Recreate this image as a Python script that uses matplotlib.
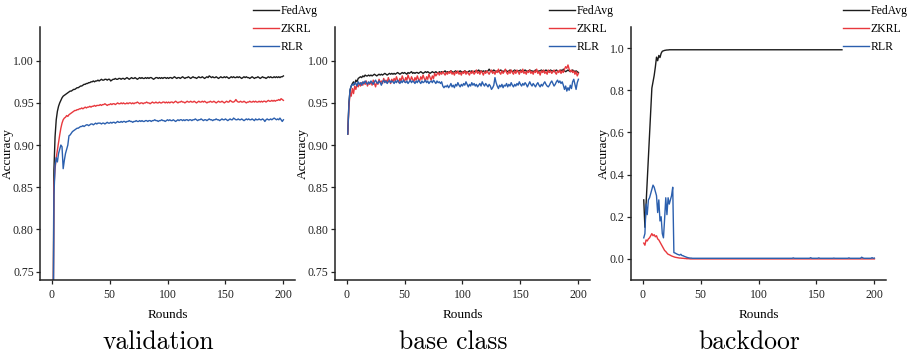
import numpy as np
import matplotlib
matplotlib.use("Agg")
import matplotlib.pyplot as plt

# ---------------- data ----------------
series_names = ["FedAvg", "ZKRL", "RLR"]
panel_titles = ["validation", "base class", "backdoor"]
x_ticks = [0, 50, 100, 150, 200]
acc_ticks = [0.75, 0.80, 0.85, 0.90, 0.95, 1.00]
bd_ticks = [0.0, 0.2, 0.4, 0.6, 0.8, 1.0]

val_fedavg = [
    0.600, 0.870, 0.910, 0.930, 0.940, 0.946, 0.950, 0.953, 0.956, 0.958, 0.959, 0.960, 0.961, 0.962, 0.963, 0.964, 0.964, 0.965, 0.966, 0.966,
    0.967, 0.968, 0.968, 0.969, 0.970, 0.970, 0.971, 0.972, 0.972, 0.973, 0.973, 0.974, 0.974, 0.975, 0.975, 0.976, 0.975, 0.976, 0.976, 0.977,
    0.976, 0.977, 0.978, 0.977, 0.977, 0.978, 0.978, 0.977, 0.978, 0.978, 0.976, 0.977, 0.978, 0.978, 0.979, 0.978, 0.978, 0.979, 0.979, 0.978,
    0.979, 0.979, 0.978, 0.979, 0.980, 0.979, 0.978, 0.979, 0.980, 0.979, 0.979, 0.980, 0.979, 0.978, 0.979, 0.980, 0.979, 0.980, 0.979, 0.979,
    0.980, 0.979, 0.980, 0.979, 0.980, 0.980, 0.979, 0.978, 0.979, 0.980, 0.980, 0.979, 0.980, 0.979, 0.980, 0.979, 0.980, 0.980, 0.979, 0.980,
    0.979, 0.980, 0.980, 0.979, 0.980, 0.981, 0.980, 0.979, 0.980, 0.980, 0.979, 0.980, 0.981, 0.980, 0.979, 0.980, 0.980, 0.981, 0.980, 0.979,
    0.980, 0.981, 0.980, 0.980, 0.979, 0.980, 0.981, 0.980, 0.980, 0.981, 0.980, 0.979, 0.980, 0.981, 0.980, 0.982, 0.981, 0.980, 0.981, 0.980,
    0.980, 0.981, 0.980, 0.979, 0.980, 0.981, 0.980, 0.980, 0.981, 0.980, 0.981, 0.980, 0.979, 0.980, 0.981, 0.980, 0.981, 0.980, 0.980, 0.981,
    0.980, 0.981, 0.980, 0.979, 0.980, 0.981, 0.980, 0.981, 0.980, 0.980, 0.979, 0.980, 0.981, 0.980, 0.979, 0.980, 0.980, 0.981, 0.980, 0.979,
    0.980, 0.981, 0.980, 0.980, 0.979, 0.980, 0.981, 0.980, 0.981, 0.980, 0.980, 0.981, 0.980, 0.981, 0.980, 0.981, 0.980, 0.981, 0.981, 0.982,
]
val_zkrl = [
    0.580, 0.850, 0.872, 0.885, 0.894, 0.903, 0.912, 0.920, 0.926, 0.930, 0.932, 0.933, 0.935, 0.934, 0.936, 0.937, 0.938, 0.939, 0.940, 0.941,
    0.941, 0.942, 0.942, 0.943, 0.943, 0.944, 0.943, 0.944, 0.945, 0.944, 0.945, 0.945, 0.946, 0.945, 0.946, 0.946, 0.947, 0.946, 0.947, 0.947,
    0.947, 0.948, 0.947, 0.948, 0.948, 0.949, 0.948, 0.947, 0.948, 0.948, 0.949, 0.948, 0.949, 0.949, 0.948, 0.949, 0.950, 0.949, 0.949, 0.950,
    0.949, 0.950, 0.949, 0.949, 0.950, 0.949, 0.950, 0.950, 0.949, 0.950, 0.949, 0.950, 0.950, 0.951, 0.950, 0.949, 0.950, 0.950, 0.949, 0.950,
    0.950, 0.951, 0.950, 0.950, 0.949, 0.950, 0.951, 0.950, 0.950, 0.951, 0.950, 0.950, 0.951, 0.950, 0.950, 0.951, 0.951, 0.950, 0.951, 0.950,
    0.951, 0.950, 0.951, 0.951, 0.950, 0.951, 0.952, 0.951, 0.950, 0.951, 0.951, 0.952, 0.951, 0.951, 0.950, 0.951, 0.952, 0.951, 0.951, 0.952,
    0.951, 0.951, 0.952, 0.951, 0.950, 0.951, 0.952, 0.951, 0.951, 0.952, 0.951, 0.952, 0.951, 0.950, 0.951, 0.951, 0.952, 0.951, 0.951, 0.952,
    0.951, 0.950, 0.951, 0.952, 0.951, 0.951, 0.952, 0.951, 0.950, 0.951, 0.952, 0.951, 0.951, 0.953, 0.952, 0.951, 0.951, 0.952, 0.954, 0.952,
    0.951, 0.951, 0.952, 0.951, 0.951, 0.952, 0.951, 0.950, 0.951, 0.951, 0.952, 0.951, 0.951, 0.952, 0.951, 0.952, 0.951, 0.951, 0.952, 0.951,
    0.952, 0.951, 0.952, 0.952, 0.951, 0.952, 0.953, 0.952, 0.952, 0.953, 0.952, 0.953, 0.952, 0.953, 0.953, 0.954, 0.953, 0.955, 0.954, 0.953,
]
val_rlr = [
    0.550, 0.840, 0.875, 0.885, 0.880, 0.890, 0.895, 0.900, 0.898, 0.872, 0.882, 0.890, 0.895, 0.900, 0.911, 0.912, 0.914, 0.916, 0.917, 0.918,
    0.919, 0.920, 0.920, 0.921, 0.922, 0.922, 0.923, 0.922, 0.923, 0.924, 0.924, 0.923, 0.924, 0.925, 0.925, 0.924, 0.925, 0.926, 0.925, 0.926,
    0.926, 0.926, 0.925, 0.926, 0.926, 0.925, 0.926, 0.927, 0.926, 0.926, 0.927, 0.926, 0.927, 0.927, 0.926, 0.927, 0.928, 0.927, 0.927, 0.928,
    0.927, 0.928, 0.928, 0.927, 0.928, 0.928, 0.929, 0.928, 0.928, 0.927, 0.928, 0.928, 0.929, 0.928, 0.928, 0.929, 0.928, 0.929, 0.928, 0.928,
    0.929, 0.929, 0.928, 0.929, 0.929, 0.928, 0.929, 0.929, 0.930, 0.929, 0.929, 0.928, 0.929, 0.929, 0.930, 0.929, 0.929, 0.928, 0.929, 0.930,
    0.929, 0.930, 0.929, 0.929, 0.930, 0.929, 0.928, 0.929, 0.930, 0.929, 0.930, 0.930, 0.929, 0.930, 0.929, 0.930, 0.930, 0.929, 0.930, 0.930,
    0.929, 0.930, 0.930, 0.931, 0.930, 0.929, 0.930, 0.930, 0.931, 0.930, 0.929, 0.930, 0.930, 0.929, 0.930, 0.931, 0.930, 0.930, 0.929, 0.930,
    0.930, 0.931, 0.930, 0.930, 0.929, 0.930, 0.931, 0.930, 0.930, 0.931, 0.930, 0.929, 0.930, 0.931, 0.930, 0.930, 0.932, 0.931, 0.930, 0.930,
    0.931, 0.930, 0.930, 0.931, 0.930, 0.929, 0.930, 0.931, 0.930, 0.931, 0.930, 0.930, 0.931, 0.930, 0.929, 0.931, 0.930, 0.930, 0.931, 0.930,
    0.930, 0.931, 0.930, 0.928, 0.930, 0.931, 0.930, 0.930, 0.931, 0.930, 0.931, 0.932, 0.931, 0.930, 0.931, 0.930, 0.932, 0.930, 0.928, 0.930,
]

base_fedavg = [
    0.913, 0.950, 0.965, 0.970, 0.973, 0.975, 0.972, 0.977, 0.975, 0.979, 0.980, 0.981, 0.980, 0.982, 0.981, 0.983, 0.982, 0.982, 0.983, 0.982,
    0.983, 0.982, 0.983, 0.984, 0.983, 0.982, 0.983, 0.984, 0.983, 0.984, 0.983, 0.984, 0.985, 0.984, 0.983, 0.984, 0.985, 0.984, 0.985, 0.984,
    0.985, 0.984, 0.985, 0.986, 0.985, 0.984, 0.985, 0.986, 0.985, 0.986, 0.985, 0.984, 0.986, 0.985, 0.986, 0.987, 0.985, 0.986, 0.985, 0.986,
    0.986, 0.985, 0.986, 0.987, 0.986, 0.985, 0.986, 0.987, 0.986, 0.987, 0.986, 0.985, 0.986, 0.987, 0.986, 0.986, 0.987, 0.986, 0.985, 0.987,
    0.986, 0.987, 0.986, 0.987, 0.988, 0.986, 0.987, 0.986, 0.987, 0.988, 0.987, 0.986, 0.987, 0.988, 0.987, 0.986, 0.987, 0.988, 0.987, 0.986,
    0.987, 0.988, 0.987, 0.986, 0.987, 0.988, 0.987, 0.988, 0.986, 0.987, 0.988, 0.987, 0.988, 0.989, 0.987, 0.988, 0.987, 0.988, 0.987, 0.988,
    0.987, 0.988, 0.990, 0.988, 0.987, 0.988, 0.989, 0.988, 0.987, 0.988, 0.987, 0.988, 0.989, 0.988, 0.987, 0.988, 0.989, 0.988, 0.987, 0.988,
    0.989, 0.988, 0.987, 0.988, 0.989, 0.988, 0.987, 0.988, 0.988, 0.989, 0.988, 0.987, 0.988, 0.989, 0.988, 0.987, 0.988, 0.989, 0.988, 0.988,
    0.987, 0.988, 0.989, 0.988, 0.987, 0.988, 0.988, 0.989, 0.988, 0.987, 0.988, 0.989, 0.988, 0.987, 0.988, 0.989, 0.988, 0.988, 0.987, 0.988,
    0.989, 0.988, 0.987, 0.988, 0.989, 0.988, 0.990, 0.988, 0.987, 0.988, 0.989, 0.988, 0.987, 0.988, 0.989, 0.988, 0.987, 0.988, 0.987, 0.986,
]
base_zkrl = [
    0.913, 0.945, 0.962, 0.958, 0.967, 0.961, 0.970, 0.966, 0.972, 0.969, 0.973, 0.970, 0.974, 0.971, 0.975, 0.972, 0.976, 0.970, 0.974, 0.972,
    0.975, 0.971, 0.977, 0.973, 0.969, 0.975, 0.972, 0.978, 0.974, 0.976, 0.973, 0.979, 0.975, 0.977, 0.974, 0.980, 0.976, 0.973, 0.978, 0.975,
    0.979, 0.976, 0.981, 0.977, 0.974, 0.979, 0.976, 0.982, 0.978, 0.975, 0.980, 0.977, 0.983, 0.979, 0.976, 0.981, 0.978, 0.975, 0.980, 0.977,
    0.982, 0.978, 0.976, 0.981, 0.978, 0.983, 0.979, 0.976, 0.981, 0.978, 0.984, 0.980, 0.977, 0.982, 0.979, 0.985, 0.982, 0.984, 0.986, 0.983,
    0.986, 0.984, 0.987, 0.985, 0.983, 0.986, 0.984, 0.987, 0.985, 0.988, 0.984, 0.986, 0.983, 0.987, 0.985, 0.988, 0.984, 0.986, 0.983, 0.987,
    0.985, 0.988, 0.984, 0.987, 0.985, 0.983, 0.987, 0.985, 0.988, 0.984, 0.986, 0.989, 0.985, 0.987, 0.984, 0.988, 0.986, 0.983, 0.987, 0.985,
    0.988, 0.986, 0.984, 0.987, 0.989, 0.985, 0.987, 0.984, 0.988, 0.986, 0.990, 0.986, 0.984, 0.988, 0.985, 0.987, 0.990, 0.986, 0.984, 0.988,
    0.985, 0.989, 0.986, 0.984, 0.988, 0.985, 0.989, 0.987, 0.984, 0.988, 0.986, 0.990, 0.985, 0.987, 0.984, 0.988, 0.986, 0.989, 0.985, 0.987,
    0.984, 0.988, 0.986, 0.990, 0.985, 0.987, 0.983, 0.988, 0.986, 0.989, 0.985, 0.987, 0.984, 0.989, 0.986, 0.988, 0.985, 0.987, 0.989, 0.986,
    0.984, 0.988, 0.986, 0.989, 0.985, 0.988, 0.986, 0.990, 0.993, 0.991, 0.995, 0.990, 0.987, 0.989, 0.986, 0.988, 0.984, 0.987, 0.982, 0.985,
]
base_rlr = [
    0.913, 0.948, 0.966, 0.970, 0.972, 0.971, 0.974, 0.973, 0.970, 0.975, 0.972, 0.974, 0.971, 0.975, 0.973, 0.976, 0.974, 0.972, 0.975, 0.973,
    0.976, 0.974, 0.972, 0.975, 0.977, 0.974, 0.973, 0.976, 0.974, 0.971, 0.975, 0.977, 0.974, 0.976, 0.973, 0.975, 0.977, 0.974, 0.976, 0.975,
    0.973, 0.976, 0.974, 0.977, 0.975, 0.973, 0.976, 0.974, 0.977, 0.975, 0.974, 0.976, 0.973, 0.975, 0.977, 0.974, 0.976, 0.975, 0.973, 0.976,
    0.974, 0.977, 0.975, 0.973, 0.976, 0.974, 0.975, 0.977, 0.974, 0.976, 0.973, 0.975, 0.976, 0.974, 0.977, 0.975, 0.973, 0.976, 0.974, 0.975,
    0.973, 0.975, 0.970, 0.968, 0.970, 0.969, 0.971, 0.968, 0.970, 0.973, 0.969, 0.971, 0.968, 0.972, 0.970, 0.974, 0.971, 0.969, 0.972, 0.970,
    0.973, 0.971, 0.975, 0.972, 0.969, 0.972, 0.970, 0.974, 0.971, 0.973, 0.970, 0.972, 0.969, 0.971, 0.973, 0.970, 0.975, 0.972, 0.970, 0.973,
    0.971, 0.969, 0.972, 0.970, 0.966, 0.968, 0.971, 0.980, 0.974, 0.970, 0.967, 0.971, 0.969, 0.972, 0.968, 0.971, 0.970, 0.973, 0.969, 0.972,
    0.970, 0.974, 0.971, 0.969, 0.972, 0.970, 0.973, 0.971, 0.975, 0.972, 0.970, 0.973, 0.971, 0.974, 0.972, 0.969, 0.972, 0.975, 0.972, 0.970,
    0.973, 0.971, 0.969, 0.972, 0.974, 0.971, 0.969, 0.972, 0.970, 0.973, 0.975, 0.972, 0.970, 0.969, 0.971, 0.974, 0.976, 0.973, 0.970, 0.972,
    0.975, 0.977, 0.974, 0.976, 0.973, 0.975, 0.971, 0.966, 0.970, 0.964, 0.968, 0.965, 0.971, 0.967, 0.975, 0.978, 0.972, 0.966, 0.974, 0.978,
]

bd_fedavg = [
    0.280, 0.150, 0.260, 0.370, 0.480, 0.590, 0.700, 0.810, 0.840, 0.870, 0.910, 0.957, 0.940, 0.965, 0.955, 0.975, 0.985, 0.987, 0.989, 0.990,
    0.991, 0.991, 0.992, 0.992, 0.992, 0.992, 0.992, 0.992, 0.992, 0.992, 0.992, 0.992, 0.992, 0.992, 0.992, 0.992, 0.992, 0.992, 0.992, 0.992,
    0.992, 0.992, 0.992, 0.992, 0.992, 0.992, 0.992, 0.992, 0.992, 0.992, 0.992, 0.992, 0.992, 0.992, 0.992, 0.992, 0.992, 0.992, 0.992, 0.992,
    0.992, 0.992, 0.992, 0.992, 0.992, 0.992, 0.992, 0.992, 0.992, 0.992, 0.992, 0.992, 0.992, 0.992, 0.992, 0.992, 0.992, 0.992, 0.992, 0.992,
    0.992, 0.992, 0.992, 0.992, 0.992, 0.992, 0.992, 0.992, 0.992, 0.992, 0.992, 0.992, 0.992, 0.992, 0.992, 0.992, 0.992, 0.992, 0.992, 0.992,
    0.992, 0.992, 0.992, 0.992, 0.992, 0.992, 0.992, 0.992, 0.992, 0.992, 0.992, 0.992, 0.992, 0.992, 0.992, 0.992, 0.992, 0.992, 0.992, 0.992,
    0.992, 0.992, 0.992, 0.992, 0.992, 0.992, 0.992, 0.992, 0.992, 0.992, 0.992, 0.992, 0.992, 0.992, 0.992, 0.992, 0.992, 0.992, 0.992, 0.992,
    0.992, 0.992, 0.992, 0.992, 0.992, 0.992, 0.992, 0.992, 0.992, 0.992, 0.992, 0.992, 0.992, 0.992, 0.992, 0.992, 0.992, 0.992, 0.992, 0.992,
    0.992, 0.992, 0.992, 0.992, 0.992, 0.992, 0.992, 0.992, 0.992, 0.992, 0.992, 0.992,
]
bd_zkrl = [
    0.075, 0.065, 0.090, 0.085, 0.095, 0.100, 0.110, 0.120, 0.110, 0.115, 0.105, 0.110, 0.095, 0.090, 0.080, 0.070, 0.060, 0.050, 0.040, 0.035,
    0.028, 0.022, 0.020, 0.017, 0.014, 0.012, 0.010, 0.008, 0.007, 0.006, 0.005, 0.004, 0.004, 0.003, 0.003, 0.002, 0.002, 0.001, 0.001, 0.001,
    0.000, 0.000, 0.000, 0.000, 0.000, 0.000, 0.000, 0.000, 0.000, 0.000, 0.000, 0.000, 0.000, 0.000, 0.000, 0.000, 0.000, 0.000, 0.000, 0.000,
    0.000, 0.000, 0.000, 0.000, 0.000, 0.000, 0.000, 0.000, 0.000, 0.000, 0.000, 0.000, 0.000, 0.000, 0.000, 0.000, 0.000, 0.000, 0.000, 0.000,
    0.000, 0.000, 0.000, 0.000, 0.000, 0.000, 0.000, 0.000, 0.000, 0.000, 0.000, 0.000, 0.000, 0.000, 0.000, 0.000, 0.000, 0.000, 0.000, 0.000,
    0.000, 0.000, 0.000, 0.000, 0.000, 0.000, 0.000, 0.000, 0.000, 0.000, 0.000, 0.000, 0.000, 0.000, 0.000, 0.000, 0.000, 0.000, 0.000, 0.000,
    0.000, 0.000, 0.000, 0.000, 0.000, 0.000, 0.000, 0.000, 0.000, 0.000, 0.000, 0.000, 0.000, 0.000, 0.000, 0.000, 0.000, 0.000, 0.000, 0.000,
    0.000, 0.000, 0.000, 0.000, 0.000, 0.000, 0.000, 0.000, 0.000, 0.000, 0.000, 0.000, 0.000, 0.000, 0.000, 0.000, 0.000, 0.000, 0.000, 0.000,
    0.000, 0.000, 0.000, 0.000, 0.000, 0.000, 0.000, 0.000, 0.000, 0.000, 0.000, 0.000, 0.000, 0.000, 0.000, 0.000, 0.000, 0.000, 0.000, 0.000,
    0.000, 0.000, 0.000, 0.000, 0.000, 0.000, 0.000, 0.000, 0.000, 0.000, 0.000, 0.000, 0.000, 0.000, 0.000, 0.000, 0.000, 0.000, 0.000, 0.000,
]
bd_rlr = [
    0.100, 0.120, 0.260, 0.210, 0.280, 0.290, 0.310, 0.330, 0.350, 0.340, 0.320, 0.300, 0.220, 0.280, 0.180, 0.200, 0.120, 0.100, 0.190, 0.290,
    0.210, 0.290, 0.260, 0.280, 0.300, 0.340, 0.030, 0.028, 0.025, 0.022, 0.020, 0.018, 0.022, 0.016, 0.015, 0.012, 0.010, 0.008, 0.006, 0.005,
    0.004, 0.004, 0.003, 0.003, 0.003, 0.003, 0.003, 0.003, 0.003, 0.003, 0.003, 0.003, 0.003, 0.003, 0.003, 0.003, 0.003, 0.003, 0.003, 0.003,
    0.003, 0.003, 0.003, 0.003, 0.003, 0.003, 0.003, 0.003, 0.003, 0.003, 0.003, 0.003, 0.003, 0.003, 0.003, 0.003, 0.003, 0.003, 0.003, 0.003,
    0.003, 0.003, 0.003, 0.003, 0.003, 0.003, 0.003, 0.003, 0.003, 0.003, 0.003, 0.003, 0.003, 0.003, 0.003, 0.003, 0.003, 0.003, 0.003, 0.003,
    0.003, 0.003, 0.003, 0.003, 0.003, 0.003, 0.003, 0.003, 0.003, 0.003, 0.003, 0.003, 0.003, 0.003, 0.003, 0.003, 0.003, 0.003, 0.003, 0.003,
    0.003, 0.003, 0.003, 0.003, 0.003, 0.003, 0.003, 0.003, 0.003, 0.005, 0.003, 0.003, 0.003, 0.003, 0.003, 0.003, 0.003, 0.003, 0.003, 0.003,
    0.003, 0.003, 0.003, 0.003, 0.006, 0.003, 0.003, 0.003, 0.003, 0.003, 0.003, 0.005, 0.003, 0.003, 0.003, 0.003, 0.003, 0.003, 0.003, 0.003,
    0.003, 0.003, 0.003, 0.003, 0.004, 0.003, 0.003, 0.003, 0.003, 0.003, 0.003, 0.003, 0.003, 0.003, 0.003, 0.003, 0.003, 0.005, 0.003, 0.003,
    0.003, 0.003, 0.003, 0.003, 0.003, 0.003, 0.003, 0.003, 0.008, 0.005, 0.003, 0.003, 0.003, 0.003, 0.003, 0.003, 0.003, 0.006, 0.003, 0.004,
]

colors = {"FedAvg": "#1c1c1c", "ZKRL": "#e8383d", "RLR": "#2b5fae"}

# ---------------- figure ----------------
W, H = 909, 356
fig = plt.figure(figsize=(W / 100, H / 100), dpi=100)
serif = "Liberation Serif"

panels = [
    (40, {"FedAvg": val_fedavg, "ZKRL": val_zkrl, "RLR": val_rlr}, (0.74, 1.04), acc_ticks, "{:.2f}", 253, 9),
    (335, {"FedAvg": base_fedavg, "ZKRL": base_zkrl, "RLR": base_rlr}, (0.74, 1.04), acc_ticks, "{:.2f}", 549, 304),
    (631, {"FedAvg": bd_fedavg, "ZKRL": bd_zkrl, "RLR": bd_rlr}, (-0.1, 1.1), bd_ticks, "{:.1f}", 843, 605),
]

ax_w = 255
ax_top, ax_bot = 27, 280
for (left, data, ylim, yticks, fmt, leg_x, ylab_x), title in zip(panels, panel_titles):
    ax = fig.add_axes([left / W, 1 - ax_bot / H, ax_w / W, (ax_bot - ax_top) / H])
    handles = []
    for name in series_names:
        vals = data[name]
        rounds = np.arange(1, len(vals) + 1)
        (h,) = ax.plot(rounds, vals, color=colors[name], lw=1.0, label=name)
        handles.append(h)
    ax.set_xlim(-10, 210)
    ax.set_ylim(*ylim)
    ax.set_xticks(x_ticks)
    ax.set_xticklabels([str(t) for t in x_ticks], fontfamily=serif, fontsize=8.5)
    ax.set_yticks(yticks)
    ax.set_yticklabels([fmt.format(t) for t in yticks], fontfamily=serif, fontsize=8.5)
    for s in ["top", "right"]:
        ax.spines[s].set_visible(False)
    for s in ["left", "bottom"]:
        ax.spines[s].set_linewidth(1.1)
        ax.spines[s].set_color("#222222")
    ax.tick_params(axis="both", direction="out", length=3, width=0.9, colors="#222222")
    ax.tick_params(axis="y", pad=1.5)
    ax.tick_params(axis="x", pad=3.5)
    ax.set_xlabel("Rounds", fontfamily=serif, fontsize=9.5)
    ax.xaxis.set_label_coords(0.5, -(309 - ax_bot) / (ax_bot - ax_top))
    ax.set_ylabel("Accuracy", fontfamily=serif, fontsize=9.5)
    ax.yaxis.set_label_coords(-(left - ylab_x - 5) / ax_w, 0.5)
    fig.legend(handles=handles, labels=series_names, loc="upper left",
               bbox_to_anchor=(leg_x / W, 1 - 5 / H), bbox_transform=fig.transFigure,
               frameon=False, borderpad=0, borderaxespad=0, handlelength=2.2,
               handletextpad=0.15, labelspacing=0.5,
               prop={"family": serif, "size": 8.5})
    fig.text((left + ax_w / 2 - 9) / W, 1 - 342 / H, title, family="cmr10",
             fontsize=18.5, ha="center", va="center")

fig.savefig("out.png", dpi=100)
